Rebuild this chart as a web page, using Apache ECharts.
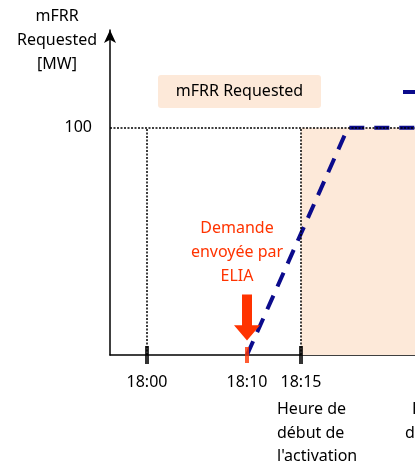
<!DOCTYPE html>
<html>
<head>
<meta charset="utf-8">
<script src="https://cdn.jsdelivr.net/npm/echarts@6/dist/echarts.min.js"></script>
<style>
  html, body { margin: 0; padding: 0; background: #fff; }
  #chart { width: 415px; height: 468px; }
</style>
</head>
<body>
<div id="chart"></div>
<script>
// schematic time axis (minutes after 18:00, as drawn)
const tickValues = [0, 10, 15.4]
const tickLabels = ['18:00', '18:10', '18:15']
const blackTicks = [0, 15.4]
const sentAt = 10
const activationStart = 15.4
const requestedMW = 100
const rampX = [10, 20.1, 30]
const rampY = [0, 100, 100]

const xMin = -3.7
const xMax = 26.8
const FONT = '"Noto Sans", sans-serif'

const myChart = echarts.init(document.getElementById('chart'))

myChart.setOption({
    animation: false,
    textStyle: { fontFamily: FONT },
    grid: { left: 110, right: 0, top: 30, bottom: 113 },
    legend: {
        left: 403, top: 84, padding: 0,
        icon: 'rect', itemWidth: 30, itemHeight: 4,
        textStyle: { fontSize: 16, color: '#000' },
        data: ['mFRR Delivered']
    },
    xAxis: {
        type: 'value', min: xMin, max: xMax,
        splitLine: { show: false },
        axisTick: { show: false },
        axisLine: { lineStyle: { color: '#000', width: 1.5 } },
        axisLabel: {
            customValues: tickValues,
            margin: 19, fontSize: 16, color: '#000',
            formatter: v => tickLabels[tickValues.indexOf(v)] || ''
        }
    },
    yAxis: {
        type: 'value', min: 0, max: 143,
        splitLine: { show: false },
        axisTick: { show: false },
        axisLine: {
            show: true, onZero: false, symbol: ['none', 'arrow'], symbolSize: [9, 13],
            lineStyle: { color: '#000', width: 1.5 }
        },
        axisLabel: { customValues: [requestedMW], margin: 18, fontSize: 16, color: '#000' }
    },
    series: [
        {
            name: 'zone', type: 'line', data: [], z: 1, silent: true,
            markArea: {
                silent: true,
                itemStyle: { color: '#fde9d9' },
                data: [[{ coord: [activationStart, 0] }, { coord: [xMax, requestedMW] }]]
            }
        },
        {
            name: 'mFRR Delivered', type: 'line', z: 2,
            data: rampX.map((x, i) => [x, rampY[i]]),
            symbol: 'none',
            itemStyle: { color: '#0b0b8c' },
            lineStyle: { color: '#0b0b8c', width: 4, type: [15, 10] }
        },
        {
            name: 'guides', type: 'line', data: [], z: 3, silent: true,
            markLine: {
                silent: true, symbol: 'none',
                label: { show: false },
                lineStyle: { color: '#000', width: 1.5, type: [2, 1.5] },
                data: [
                    { yAxis: requestedMW },
                    [{ coord: [0, 0] }, { coord: [0, requestedMW] }],
                    [{ coord: [activationStart, 0] }, { coord: [activationStart, requestedMW] }]
                ]
            }
        },
        {
            name: 'ticks', type: 'scatter', z: 5, clip: false, silent: true,
            symbol: 'rect', symbolSize: [4, 18],
            itemStyle: { color: '#000' },
            data: blackTicks.map(x => [x, 0])
        },
        {
            name: 'sent', type: 'scatter', z: 5, clip: false, silent: true,
            symbol: 'rect', symbolSize: [4, 16],
            itemStyle: { color: '#ff3300' },
            data: [[sentAt, 0]],
            markPoint: {
                silent: true,
                symbol: 'path://M8,0 L18,0 L18,30 L26,30 L13,45 L0,30 L8,30 Z',
                symbolSize: [26, 46],
                itemStyle: { color: '#ff3300' },
                label: {
                    show: true, position: 'top', distance: 6, offset: [-10, 0],
                    formatter: 'Demande\nenvoyée par\nELIA',
                    color: '#ff3300', fontSize: 16, lineHeight: 24, align: 'center'
                },
                data: [{ coord: [sentAt, 16.5] }]
            }
        }
    ],
    graphic: [
        {
            type: 'text', x: 57, y: 4,
            style: {
                text: 'mFRR\nRequested\n[MW]', align: 'center',
                fontSize: 16, lineHeight: 24, fill: '#000', fontFamily: FONT
            }
        },
        {
            type: 'group', left: 158, top: 75,
            children: [
                { type: 'rect', shape: { x: 0, y: 0, width: 163, height: 33, r: 3 }, style: { fill: '#fde9d9' } },
                {
                    type: 'text', x: 81.5, y: 16.5,
                    style: {
                        text: 'mFRR Requested', align: 'center', verticalAlign: 'middle',
                        fontSize: 16, fill: '#000', fontFamily: FONT
                    }
                }
            ]
        },
        {
            type: 'text', left: 277, top: 398,
            style: {
                text: "Heure de\ndébut de\nl'activation",
                fontSize: 16, lineHeight: 23.5, fill: '#000', fontFamily: FONT
            }
        },
        {
            type: 'text', x: 412, y: 398,
            style: { text: 'Heure de', fontSize: 16, lineHeight: 23.5, fill: '#000', fontFamily: FONT }
        },
        {
            type: 'text', x: 405, y: 421.5,
            style: { text: 'de fin de', fontSize: 16, lineHeight: 23.5, fill: '#000', fontFamily: FONT }
        }
    ]
})
</script>
</body>
</html>
